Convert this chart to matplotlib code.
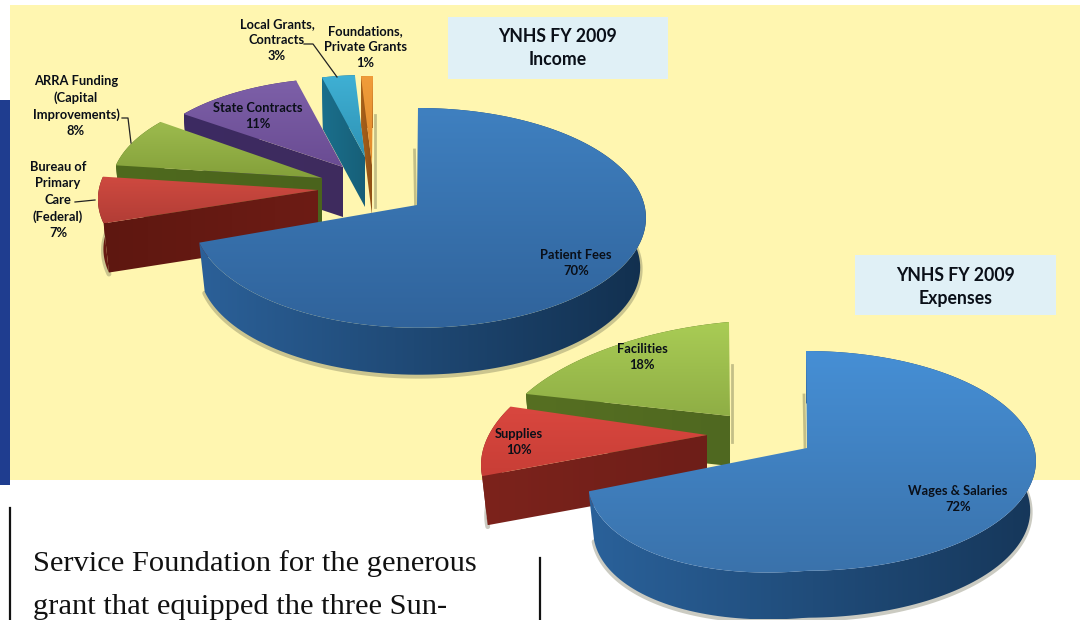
import numpy as np
import matplotlib
matplotlib.use("Agg")
import matplotlib.pyplot as plt
from matplotlib.colors import LinearSegmentedColormap
from matplotlib.patches import Polygon, Rectangle

# ---- data
income_labels = ["Patient Fees", "Bureau of\nPrimary\nCare\n(Federal)", "ARRA Funding\n(Capital\nImprovements)",
                 "State Contracts", "Local Grants,\nContracts", "Foundations,\nPrivate Grants"]
income_values = [70, 7, 8, 11, 3, 1]
expense_labels = ["Wages & Salaries", "Supplies", "Facilities"]
expense_values = [72, 10, 18]

# ---- layout (pixel space of the 1080x620 picture)
income_apex = [(417, 205), (318, 190), (322, 178), (343, 167), (365, 157), (372, 165)]
income_scale = [1.0, 0.97, 0.93, 0.92, 0.85, 0.92]
income_left = [0.985, 1.0, 1.0, 1.0, 1.0, 1.0]
income_droop = [0.0, -0.015, -0.015, -0.0, 0.0, 0.0]
income_label_xy = [(576, 263), (58, 200), (76, 106), (258, 116), (277, 40), (365, 47)]
expense_apex = [(807, 448), (707, 435), (730, 416)]
expense_scale = [1.0, 1.03, 0.97]
expense_left = [0.95, 0.95, 1.05]
expense_droop = [0.09, 0.075, 0.09]
expense_label_xy = [(958, 499), (519, 442), (642, 357)]

income_top = [("#3f80c0", "#30639b"), ("#cf4a40", "#b23d36"), ("#9dbb4e", "#84a03a"),
              ("#7d60a8", "#6a4c93"), ("#3fb0d4", "#2f93b5"), ("#f09c3a", "#e08a2c")]
income_side = [("#2b6098", "#12304f"), ("#5e1710", "#6d1c15"), ("#4f6a1e", "#4a631c"),
               ("#3c2a62", "#3f2c5e"), ("#1a6f8c", "#175f78"), ("#a8601a", "#8e5015")]
expense_top = [("#468fd5", "#3a72ab"), ("#d9473f", "#c83e36"), ("#a9cc55", "#8fae45")]
expense_side = [("#2a619a", "#16375a"), ("#7c231c", "#6e1e18"), ("#566f22", "#4f6820")]

YELLOW = "#fff6b0"
TEXT = "#0a0f18"

fig = plt.figure(figsize=(10.8, 6.2), dpi=100, facecolor="white")
ax = fig.add_axes([0, 0, 1, 1])
ax.set_axis_off()

z = [10]


def nz():
    z[0] += 1
    return z[0]


def grad_fill(verts, c0, c1, axis):
    verts = np.asarray(verts)
    poly = Polygon(verts, closed=True, fc="none", ec="none", transform=ax.transData)
    ax.add_patch(poly)
    cmap = LinearSegmentedColormap.from_list("g", [c0, c1])
    ramp = np.linspace(0, 1, 128)
    arr = ramp[:, None] if axis == "y" else ramp[None, :]
    xa, ya = verts[:, 0], verts[:, 1]
    im = ax.imshow(arr, cmap=cmap, aspect="auto", interpolation="bilinear",
                   extent=(xa.min(), xa.max(), ya.max(), ya.min()), zorder=nz())
    im.set_clip_path(poly)


def rim_point(theta, apex, scale, left_x, droop, cfg):
    u, v = np.sin(theta), np.cos(theta)
    den = 1 + cfg["k"] * v
    dx = cfg["R"] * u / den
    dy = -cfg["Rb"] * v / den
    dx = np.where(dx < 0, dx * left_x, dx)
    dy = dy - droop * np.minimum(dx, 0)
    return np.column_stack([apex[0] + cfg["x0"] + dx * scale,
                            apex[1] + cfg["y0"] + dy * scale])


def lower(pts, apex, cfg):
    p = np.asarray(pts, float)
    out = p.copy()
    out[:, 0] = apex[0] + (p[:, 0] - apex[0]) * cfg["f"]
    out[:, 1] = apex[1] + (p[:, 1] - apex[1]) * cfg["f"] + cfg["d"]
    return out


def draw_pie(values, apexes, scales, lefts, droops, tops, sides, cfg):
    total = sum(values)
    edges = np.cumsum([0] + list(values)) / total * 2 * np.pi
    for i in range(len(values) - 1, -1, -1):
        apex, s = apexes[i], scales[i]
        th = np.linspace(edges[i], edges[i + 1], 160)
        rim = rim_point(th, apex, s, lefts[i], droops[i], cfg)
        low = lower(rim, apex, cfg)
        body = np.vstack([rim, low[::-1]])
        # soft drop shadow along the front of the slice
        front = (th > np.radians(70)) & (th < np.radians(290))
        if front.any():
            ax.plot(low[front, 0], low[front, 1] + 1.5, color="#6b6b50", lw=3.5, alpha=0.35,
                    solid_capstyle="round", zorder=nz())
        # outer wall
        grad_fill(body, sides[i][0], sides[i][1], "x")
        # cut wall under the leading edge (visible only on the detached slices)
        if i > 0:
            a = np.array([apex], float)
            r0 = rim[:1]
            wall = np.vstack([a, r0, lower(r0, apex, cfg), lower(a, apex, cfg)])
            grad_fill(wall, sides[i][0], sides[i][1], "x")
        # top face
        grad_fill(np.vstack([[apex], rim]), tops[i][0], tops[i][1], "y")


# ---- page background
ax.add_patch(Rectangle((10, 5), 1070, 475, fc=YELLOW, ec="none", zorder=1))
ax.add_patch(Rectangle((0, 100), 10, 385, fc="#1f3d8f", ec="none", zorder=1))
ax.add_patch(Rectangle((448, 17), 220, 62, fc="#e0f0f6", ec="none", zorder=2))
ax.add_patch(Rectangle((855, 255), 201, 60, fc="#e0f0f6", ec="none", zorder=2))

# thin shadows beside the straight walls
for xs, ys in [((414.5, 415.5), (150, 205)), ((804, 805), (395, 448)), ((732, 732), (365, 442)),
               ((375, 375), (115, 207))]:
    ax.plot(xs, ys, color="#8a8a60", lw=2, alpha=0.5, zorder=5)

income_cfg = dict(R=227, Rb=109, k=0.09, x0=1, y0=3, f=0.975, d=50)
expense_cfg = dict(R=229, Rb=109, k=0.09, x0=-1, y0=3, f=0.975, d=50)

draw_pie(income_values, income_apex, income_scale, income_left, income_droop, income_top, income_side, income_cfg)
draw_pie(expense_values, expense_apex, expense_scale, expense_left, expense_droop, expense_top, expense_side, expense_cfg)

# ---- labels
label_font = dict(family="Lato", weight="bold", color=TEXT, ha="center", va="center",
                  fontsize=9.3, linespacing=1.43, zorder=500)
for name, val, (x, y) in zip(income_labels, income_values, income_label_xy):
    ax.text(x, y, f"{name}\n{val}%", **label_font)
for name, val, (x, y) in zip(expense_labels, expense_values, expense_label_xy):
    ax.text(x, y, f"{name}\n{val}%", **label_font)

title_font = dict(family="Lato", weight="bold", color=TEXT, ha="center", va="center",
                  fontsize=12.7, linespacing=1.42, zorder=500)
ax.text(558, 48, "YNHS FY 2009\nIncome", **title_font)
ax.text(956, 287, "YNHS FY 2009\nExpenses", **title_font)

# ---- leader lines
for xs, ys in [((304, 313, 337), (44, 44, 77)),
               ((122, 128, 131), (118, 118, 143)),
               ((75, 95), (202, 200))]:
    ax.plot(xs, ys, color="#222222", lw=0.9, zorder=499)

# ---- running text of the page
body_font = dict(family="Liberation Serif", color="#111111", fontsize=21.95, ha="left", va="baseline", zorder=3)
ax.text(33, 571, "Service Foundation for the generous", **body_font)
ax.text(33, 614, "grant that equipped the three Sun-", **body_font)
ax.plot([10, 10], [508, 620], color="#111111", lw=1.6, zorder=3)
ax.plot([540, 540], [558, 620], color="#111111", lw=1.6, zorder=3)

ax.set_xlim(0, 1080)
ax.set_ylim(620, 0)
fig.savefig("out.png", dpi=100, facecolor="white")
